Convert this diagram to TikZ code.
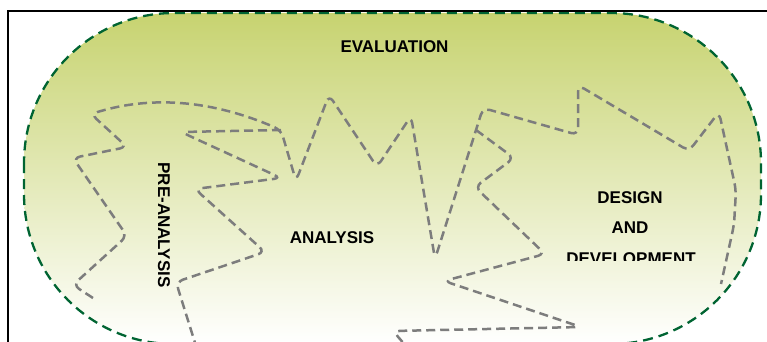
\documentclass[tikz,border=0pt]{standalone}
\usepackage{fontspec}
\setmainfont{Liberation Sans}
\definecolor{evaltop}{RGB}{199,211,112}
\definecolor{rimgreen}{RGB}{0,100,50}
\definecolor{wiggray}{RGB}{125,125,125}
\begin{document}
\begin{tikzpicture}[x=1pt,y=-1pt,
  stadium/.style={draw=rimgreen, line width=2.3pt, dash pattern=on 10pt off 6pt, top color=evaltop, bottom color=white, rounded corners=150pt},
  wig/.style={draw=wiggray, line width=2.5pt, dash pattern=on 9pt off 5pt, rounded corners=7pt},
  lbl/.style={font=\fontsize{17}{20}\selectfont\bfseries, inner sep=0pt, text=black},
  frameline/.style={draw=black, line width=2pt}]
\useasboundingbox (0,0) rectangle (767,342);
\clip (0,0) rectangle (767,342);
% outer stadium (EVALUATION)
\path[stadium] (24,13) rectangle (761,344);
% wiggly region outlines
\draw[wig] (93,298) -- (73,285) -- (127,236) -- (73,158) -- (127,147) -- (91,114)
  .. controls (140,99) and (200,95) .. (281,130) -- (296,181) -- (329,95) -- (377,167)
  -- (411,116) -- (435,259) -- (483,108) -- (578,135) -- (578,85) -- (689,151)
  -- (719,112) -- (736,190) -- (734,225) -- (721,284);
\draw[wig] (476,130) -- (514,158) -- (475,187) -- (545,254) -- (444,281) -- (581,327) -- (393,331) -- (406,346);
\draw[wig] (281,130) -- (181,132) -- (281,178) -- (195,189) -- (265,252) -- (176,282) -- (196,346);
% labels
\node[lbl] (evaluation) at (394.5,46.5) {EVALUATION};
\node[lbl] (analysis) at (332,238) {ANALYSIS};
\node[lbl, rotate=-90] (preanalysis) at (164,225) {PRE-ANALYSIS};
\node[lbl] (design) at (630,197.5) {DESIGN};
\node[lbl] (and) at (630,228) {AND};
\begin{scope}
  \clip (540,240) rectangle (720,260.5);
  \node[lbl] (development) at (631,258.5) {DEVELOPMENT};
\end{scope}
% frame
\draw[frameline] (8,342) -- (8,11) -- (767,11);
\end{tikzpicture}
\end{document}
